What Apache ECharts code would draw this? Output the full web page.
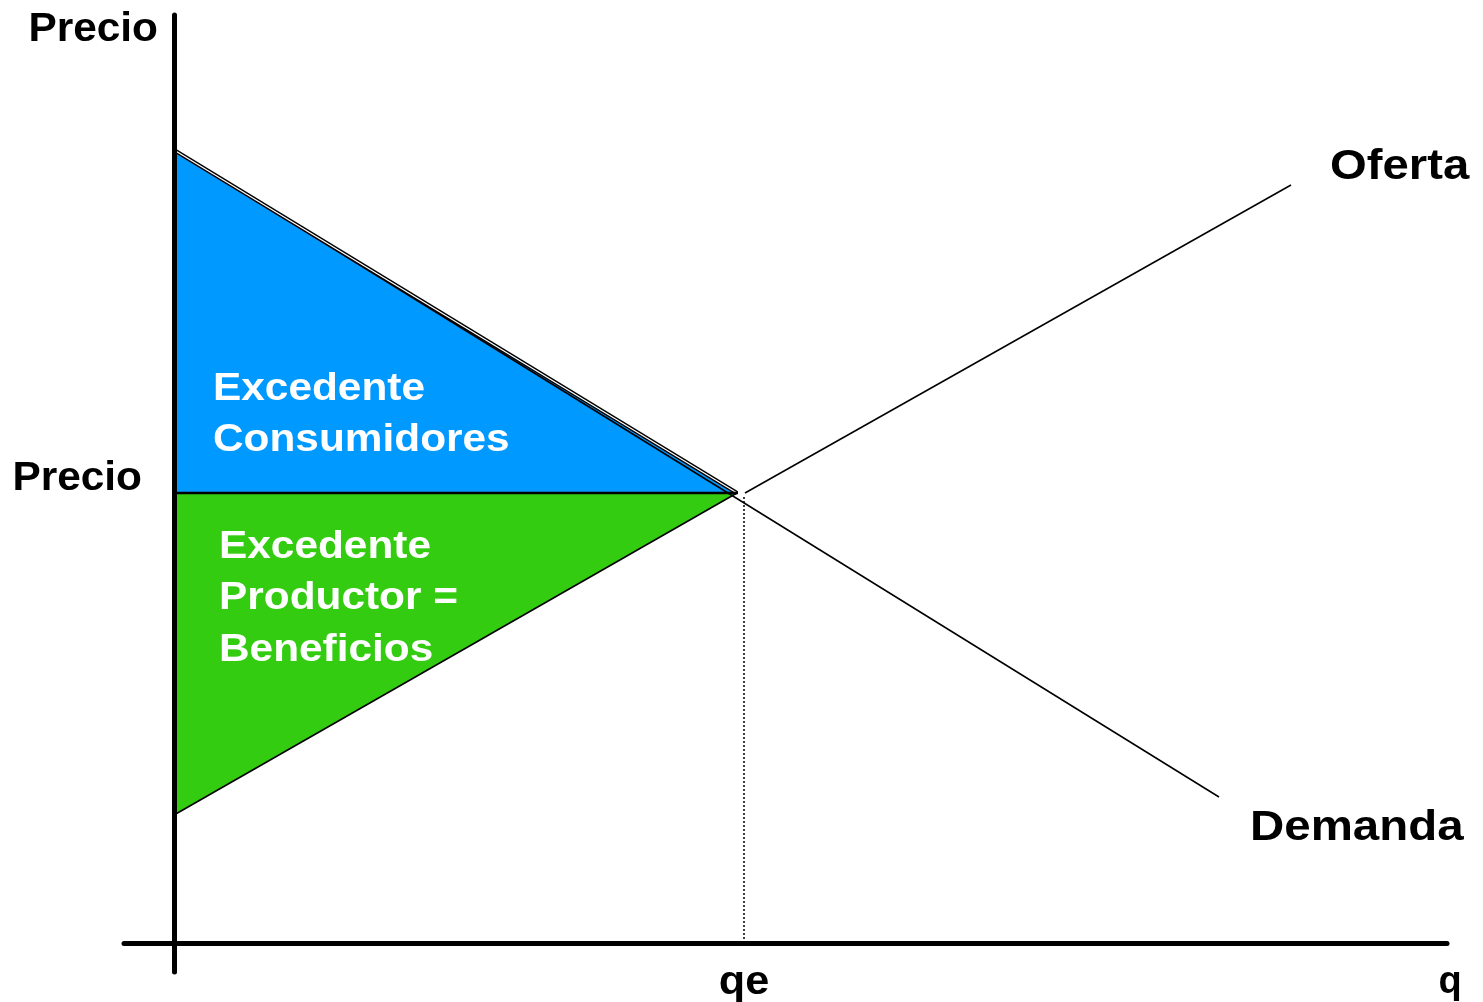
<!DOCTYPE html>
<html>
<head>
<meta charset="utf-8">
<style>
  html, body { margin: 0; padding: 0; background: #ffffff; }
  #chart { width: 1483px; height: 1002px; }
</style>
<script src="https://cdn.jsdelivr.net/npm/echarts@6/dist/echarts.min.js"></script>
</head>
<body>
<div id="chart"></div>
<script>
// ---- data (quantity q, price p) ----
const demandQ = [0, 104.5];
const demandP = [79.3, 14.6];
const supplyLowQ = [0, 56.3];
const supplyLowP = [12.8, 45.0];
const supplyHighQ = [57.1, 111.7];
const supplyHighP = [45.0, 75.8];
const consumerEdgeQ = [0, 56.3];
const consumerEdgeP = [79.3, 45.0];
const priceLineQ = [0, 56.4];
const priceLineP = [45.0, 45.0];
const qeLineQ = [57.0, 57.0];
const qeLineP = [44.6, 0.3];
const consumerTriQ = [0, 0, 56.3];
const consumerTriP = [79.3, 45.0, 45.0];
const producerTriQ = [0, 56.3, 0];
const producerTriP = [45.0, 45.0, 12.8];
const labelsConsumer = ['Excedente', 'Consumidores'];
const labelsProducer = ['Excedente', 'Productor =', 'Beneficios'];
const axisTexts = { pTop: 'Precio', pMid: 'Precio', qe: 'qe', q: 'q', supply: 'Oferta', demand: 'Demanda' };

const zip = (a, b) => a.map((v, i) => [v, b[i]]);

const chart = echarts.init(document.getElementById('chart'), null, { renderer: 'canvas' });

function triSeries(qs, ps, color) {
  const pts = zip(qs, ps);
  return {
    type: 'custom',
    coordinateSystem: 'cartesian2d',
    silent: true,
    z: 1,
    data: [[0, 0]],
    renderItem: function (params, api) {
      return {
        type: 'polygon',
        shape: { points: pts.map(p => api.coord(p)) },
        style: { fill: color, stroke: null }
      };
    }
  };
}

function lineSeries(qs, ps, width, color, type, z) {
  return {
    type: 'line',
    data: zip(qs, ps),
    symbol: 'none',
    silent: true,
    z: z || 3,
    lineStyle: { color: color, width: width, type: type || 'solid', cap: 'butt' }
  };
}

const FONT = '"Liberation Sans", Arial, sans-serif';
function txt(text, x, y, size, align, color, sx, vAlign) {
  return {
    type: 'text',
    x: x, y: y,
    scaleX: sx || 1,
    z: 20,
    style: {
      text: text,
      fill: color || '#000',
      font: 'bold ' + size + 'px ' + FONT,
      textAlign: align || 'left',
      textVerticalAlign: vAlign || 'middle'
    }
  };
}

const graphics = [
  txt(axisTexts.pTop, 158, 30, 40, 'right', '#000', 1.06),
  txt(axisTexts.pMid, 142, 479, 40, 'right', '#000', 1.06),
  txt(axisTexts.supply, 1330, 167, 42, 'left', '#000', 1.125),
  txt(axisTexts.demand, 1250, 828, 42, 'left', '#000', 1.13),
  txt(axisTexts.qe, 744, 983, 40, 'center', '#000', 1.08),
  txt(axisTexts.q, 1450, 983, 38, 'center'),
  txt(labelsConsumer[0], 213, 390, 38, 'left', '#fff', 1.115),
  txt(labelsConsumer[1], 213, 441, 38, 'left', '#fff', 1.115),
  txt(labelsProducer[0], 219, 548, 38, 'left', '#fff', 1.115),
  txt(labelsProducer[1], 219, 599, 38, 'left', '#fff', 1.115),
  txt(labelsProducer[2], 219, 651, 38, 'left', '#fff', 1.115)
];

const option = {
  animation: false,
  backgroundColor: '#ffffff',
  grid: { left: 124, top: 15, width: 1323, height: 957, containLabel: false },
  xAxis: {
    type: 'value', min: -5, max: 127.3, z: 10,
    axisLine: { show: true, onZero: true, lineStyle: { color: '#000', width: 5 } },
    axisTick: { show: false }, axisLabel: { show: false }, splitLine: { show: false }
  },
  yAxis: {
    type: 'value', min: -2.9, max: 92.8, z: 10,
    axisLine: { show: true, onZero: true, lineStyle: { color: '#000', width: 5 } },
    axisTick: { show: false }, axisLabel: { show: false }, splitLine: { show: false }
  },
  series: [
    triSeries(consumerTriQ, consumerTriP, '#0099FF'),
    triSeries(producerTriQ, producerTriP, '#33CC11'),
    lineSeries(demandQ, demandP, 1.5, '#000'),
    lineSeries(supplyLowQ, supplyLowP, 1.5, '#000'),
    lineSeries(supplyHighQ, supplyHighP, 1.5, '#000'),
    lineSeries(consumerEdgeQ, consumerEdgeP, 4, '#000', 'solid', 4),
    lineSeries(consumerEdgeQ, consumerEdgeP, 1.2, '#fff', 'solid', 5),
    lineSeries(priceLineQ, priceLineP, 2.5, '#000', 'solid', 5),
    lineSeries(qeLineQ, qeLineP, 1.5, '#000', [2, 2], 3)
  ],
  graphic: graphics
};

chart.setOption(option);
</script>
</body>
</html>
